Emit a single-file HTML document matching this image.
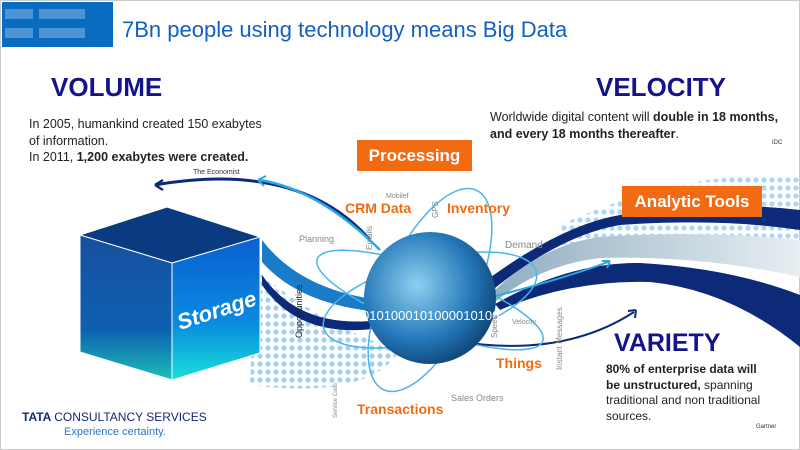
<!DOCTYPE html>
<html><head><meta charset="utf-8"><style>
body{margin:0;width:800px;height:450px;overflow:hidden;background:#fff;font-family:"Liberation Sans",sans-serif;position:relative}
.a{position:absolute;white-space:nowrap}
</style></head><body>
<div class="a" style="left:0;top:0;width:798px;height:448px;border:1px solid #ccc"></div>
<div class="a" style="left:2px;top:2px;width:111px;height:45px;background:#0a6cc0"></div>
<div class="a" style="left:5px;top:9px;width:28px;height:10px;background:#4c94d4"></div>
<div class="a" style="left:39px;top:9px;width:46px;height:10px;background:#4c94d4"></div>
<div class="a" style="left:5px;top:28px;width:28px;height:10px;background:#4c94d4"></div>
<div class="a" style="left:39px;top:28px;width:46px;height:10px;background:#4c94d4"></div>
<div class="a" style="left:122px;top:17px;font-size:22px;color:#1460c0">7Bn people using technology means Big Data</div>
<div class="a" style="left:51px;top:72px;font-size:26px;font-weight:bold;color:#14148a">VOLUME</div>
<div class="a" style="left:29px;top:116px;font-size:12.5px;line-height:16.5px;color:#222">In 2005, humankind created 150 exabytes<br>of information.<br>In 2011, <b>1,200 exabytes were created.</b></div>
<div class="a" style="left:193px;top:169px;font-size:7px;color:#333">The Economist</div>
<div class="a" style="left:596px;top:72px;font-size:26px;font-weight:bold;color:#14148a">VELOCITY</div>
<div class="a" style="left:490px;top:109px;font-size:12.5px;line-height:17px;color:#222">Worldwide digital content will <b>double in 18 months,</b><br><b>and every 18 months thereafter</b>.</div>
<div class="a" style="left:772px;top:140px;font-size:6px;color:#333">IDC</div>
<svg class="a" style="left:0;top:0" width="800" height="450">
<defs><radialGradient id="g" cx="0.4" cy="0.4" r="0.7"><stop offset="0" stop-color="#8fd0f0"/><stop offset="0.6" stop-color="#2478b8"/><stop offset="1" stop-color="#0a3868"/></radialGradient>
<linearGradient id="fl" x1="0" y1="0" x2="0" y2="1"><stop offset="0" stop-color="#1850a0"/><stop offset="0.65" stop-color="#0f5fb0"/><stop offset="1" stop-color="#1cc0b8"/></linearGradient>
<linearGradient id="fr" x1="0" y1="0" x2="0" y2="1"><stop offset="0" stop-color="#0a60d0"/><stop offset="0.6" stop-color="#0a8ae0"/><stop offset="1" stop-color="#18e0d8"/></linearGradient>
<linearGradient id="gr" x1="0" y1="0" x2="1" y2="0"><stop offset="0" stop-color="#90aec0"/><stop offset="1" stop-color="#e8eef2"/></linearGradient>
<pattern id="d" width="8" height="8" patternUnits="userSpaceOnUse"><circle cx="4" cy="4" r="2.6" fill="#8cc4ec"/></pattern></defs>
<path d="M255 270 Q330 330 400 350 Q370 400 250 385 Z" fill="url(#d)" opacity="0.8"/>
<path d="M560 225 Q680 170 800 175 L800 245 Q700 235 560 245 Z" fill="url(#d)" opacity="0.7"/>
<path d="M262 240 Q300 290 380 300 L380 312 Q300 305 262 262Z" fill="#1a7cc8"/>
<path d="M262 275 Q300 330 380 320 L380 328 Q300 340 262 285Z" fill="#0c2a78"/>
<path d="M480 285 Q560 225 620 215 Q720 200 800 210 L800 230 Q720 218 620 225 Q560 235 490 292 Z" fill="#0c2a78"/>
<path d="M490 295 Q540 245 600 237 Q700 230 800 240 L800 277 Q700 255 600 258 Q540 265 495 302 Z" fill="url(#gr)"/>
<path d="M495 304 Q570 262 640 263 Q730 268 800 295 L800 347 Q730 290 650 282 Q570 280 500 310 Z" fill="#0c2a78"/>
<path d="M480 300 Q560 280 608 262" fill="none" stroke="#28a8e8" stroke-width="2"/>
<path d="M610 261 l-8 0 M610 261 l-3 7" stroke="#28a8e8" stroke-width="2"/>
<path d="M450 340 Q560 360 634 312" fill="none" stroke="#0c2a78" stroke-width="2"/>
<path d="M636 310 l-8 1 M636 310 l-1 8" stroke="#0c2a78" stroke-width="2"/>
<path d="M155 185 Q300 160 370 240" fill="none" stroke="#0c2a78" stroke-width="3"/>
<path d="M155 185 l8 -5 M155 185 l8 5" stroke="#0c2a78" stroke-width="2.5"/>
<path d="M260 180 Q320 190 380 250" fill="none" stroke="#28a8e8" stroke-width="2.5"/>
<path d="M258 180 l8 -4 M258 180 l6 6" stroke="#28a8e8" stroke-width="2"/>
<ellipse cx="430" cy="300" rx="110" ry="40" fill="none" stroke="#4ab4ec" stroke-width="1.5" transform="rotate(-15 430 300)"/>
<ellipse cx="430" cy="290" rx="45" ry="110" fill="none" stroke="#4ab4ec" stroke-width="1.5" transform="rotate(25 430 290)"/>
<ellipse cx="430" cy="300" rx="120" ry="30" fill="none" stroke="#4ab4ec" stroke-width="1.5" transform="rotate(20 430 300)"/>
<circle cx="430" cy="298" r="66" fill="url(#g)"/>
<text x="362" y="320" font-size="13" fill="#fff" font-family="Liberation Sans">0101000101000010100</text>
<polygon points="80,235 167,207 260,237 172,263" fill="#0a3a80" stroke="#fff" stroke-width="1"/>
<polygon points="80,235 172,263 172,380 80,352" fill="url(#fl)" stroke="#fff" stroke-width="1"/>
<polygon points="172,263 260,237 260,353 172,380" fill="url(#fr)" stroke="#fff" stroke-width="1"/>
<text x="180" y="330" font-size="22" font-weight="bold" font-style="italic" fill="#fff" font-family="Liberation Sans" transform="rotate(-18 180 330)">Storage</text>
<text font-size="8" fill="#888" font-family="Liberation Sans" transform="translate(372,250) rotate(-90)">Emails</text>
<text font-size="8" fill="#888" font-family="Liberation Sans" transform="translate(438,218) rotate(-90)">GPS</text>
<text font-size="9" fill="#222" font-family="Liberation Sans" transform="translate(302,338) rotate(-90)">Opportunities</text>
<text font-size="6" fill="#888" font-family="Liberation Sans" transform="translate(337,418) rotate(-90)">Service Calls</text>
<text font-size="8" fill="#888" font-family="Liberation Sans" transform="translate(562,370) rotate(-90)">Instant Messages</text>
<text font-size="8" fill="#888" font-family="Liberation Sans" transform="translate(497,338) rotate(-90)">Speed</text>
</svg>
<div class="a" style="left:357px;top:140px;width:115px;height:31px;background:#f26b12;color:#fff;font-weight:bold;font-size:17px;line-height:31px;text-align:center">Processing</div>
<div class="a" style="left:622px;top:186px;width:140px;height:31px;background:#f26b12;color:#fff;font-weight:bold;font-size:17px;line-height:31px;text-align:center">Analytic Tools</div>
<div class="a" style="left:345px;top:200px;font-size:14px;font-weight:bold;color:#f26b12">CRM Data</div>
<div class="a" style="left:447px;top:200px;font-size:14px;font-weight:bold;color:#f26b12">Inventory</div>
<div class="a" style="left:496px;top:355px;font-size:14px;font-weight:bold;color:#f26b12">Things</div>
<div class="a" style="left:357px;top:401px;font-size:14px;font-weight:bold;color:#f26b12">Transactions</div>
<div class="a" style="left:386px;top:193px;font-size:7px;color:#888">Mobilef</div>
<div class="a" style="left:299px;top:234px;font-size:9px;color:#888">Planning</div>
<div class="a" style="left:505px;top:240px;font-size:10px;color:#888">Demand</div>
<div class="a" style="left:512px;top:319px;font-size:7px;color:#888">Velocity</div>
<div class="a" style="left:451px;top:393px;font-size:9px;color:#888">Sales Orders</div>
<div class="a" style="left:614px;top:329px;font-size:25px;font-weight:bold;color:#14148a">VARIETY</div>
<div class="a" style="left:606px;top:362px;font-size:12px;line-height:15.5px;color:#222"><b>80% of enterprise data will</b><br><b>be unstructured,</b> spanning<br>traditional and non traditional<br>sources.</div>
<div class="a" style="left:756px;top:424px;font-size:6px;color:#333">Gartner</div>
<div class="a" style="left:22px;top:410px;font-size:12px;font-weight:bold;color:#14287a">TATA <span style="font-weight:normal">CONSULTANCY SERVICES</span></div>
<div class="a" style="left:64px;top:426px;font-size:11px;color:#2a78c8">Experience certainty.</div>
</body></html>
